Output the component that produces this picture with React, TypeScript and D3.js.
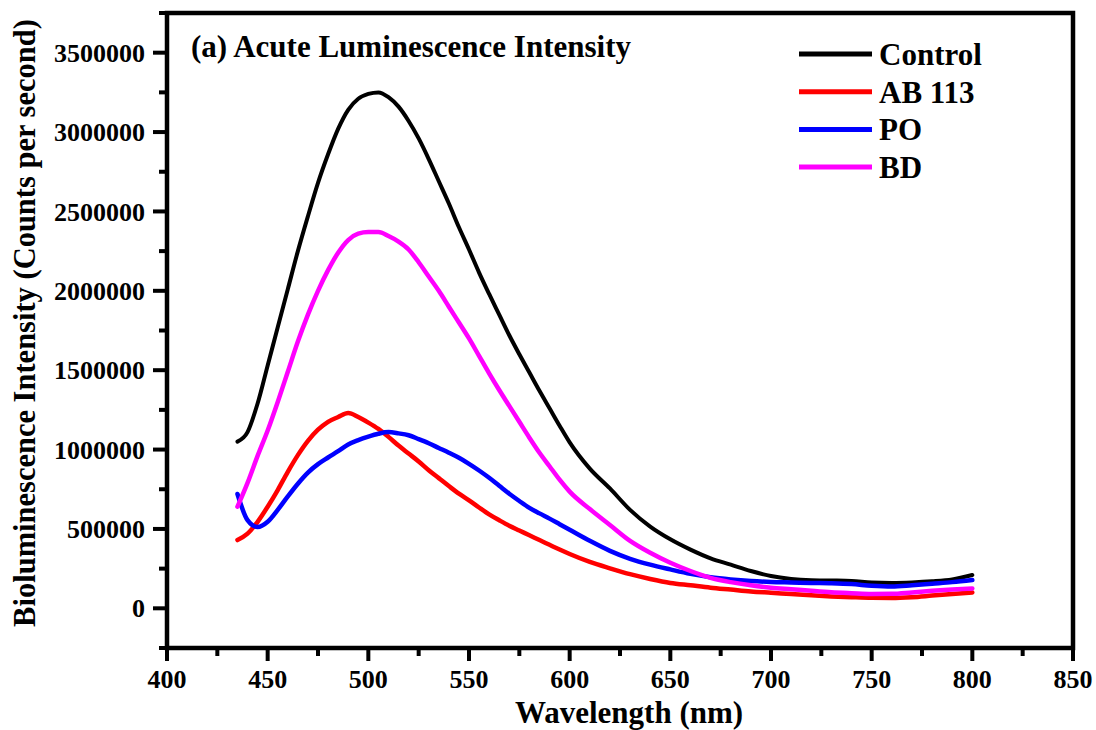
import React from "react";
import * as d3 from "d3";

const wavelengths = [
  435, 440, 445, 450, 455, 460, 465, 470, 475, 480, 485, 490, 495, 500, 505, 510, 515, 520, 525, 530,
  535, 540, 545, 550, 555, 560, 565, 570, 575, 580, 585, 590, 595, 600,
  610, 620, 630, 640, 650, 660, 670, 680, 690, 700, 710, 720, 730, 740, 750, 760, 770, 780, 790, 800,
];

const control = [
  1050000, 1110000, 1290000, 1530000, 1770000, 2010000, 2250000, 2470000, 2680000, 2860000, 3020000, 3140000, 3210000, 3240000, 3250000, 3220000, 3160000, 3070000, 2960000, 2830000,
  2690000, 2550000, 2400000, 2260000, 2115000, 1980000, 1850000, 1720000, 1600000, 1485000, 1370000, 1260000, 1150000, 1045000,
  880000, 755000, 620000, 515000, 435000, 370000, 315000, 275000, 235000, 203000, 185000, 177000, 175000, 172000, 163000, 160000, 163000, 170000, 182000, 210000,
];

const ab113 = [
  430000, 470000, 545000, 640000, 745000, 860000, 965000, 1055000, 1125000, 1175000, 1205000, 1230000, 1205000, 1170000, 1130000, 1080000, 1025000, 975000, 925000, 870000,
  820000, 770000, 722000, 680000, 635000, 592000, 555000, 520000, 490000, 460000, 430000, 400000, 370000, 342000,
  292000, 252000, 215000, 185000, 160000, 145000, 130000, 118000, 106000, 98000, 90000, 82000, 75000, 70000, 66000, 65000, 70000, 80000, 90000, 100000,
];

const po = [
  720000, 555000, 512000, 545000, 620000, 705000, 785000, 855000, 908000, 950000, 990000, 1032000, 1060000, 1082000, 1100000, 1110000, 1102000, 1090000, 1066000, 1040000,
  1010000, 980000, 948000, 910000, 868000, 822000, 772000, 722000, 676000, 633000, 598000, 565000, 530000, 495000,
  425000, 362000, 312000, 275000, 245000, 217000, 196000, 182000, 172000, 166000, 163000, 160000, 158000, 153000, 142000, 137000, 145000, 155000, 165000, 178000,
];

const bd = [
  640000, 790000, 960000, 1120000, 1300000, 1490000, 1680000, 1850000, 2000000, 2130000, 2240000, 2320000, 2360000, 2370000, 2370000, 2345000, 2310000, 2260000, 2180000, 2090000,
  2000000, 1900000, 1800000, 1700000, 1590000, 1480000, 1375000, 1275000, 1175000, 1075000, 980000, 895000, 810000, 735000,
  625000, 525000, 425000, 350000, 287000, 235000, 192000, 165000, 145000, 130000, 120000, 110000, 101000, 95000, 90000, 91000, 100000, 110000, 118000, 125000,
];

const seriesNames = ["Control", "AB 113", "PO", "BD"];
const seriesColors = ["#000000", "#ff0000", "#0000ff", "#ff00ff"];
const seriesValues = [control, ab113, po, bd];

const xTicks = [400, 450, 500, 550, 600, 650, 700, 750, 800, 850];
const xMinorTicks = [425, 475, 525, 575, 625, 675, 725, 775, 825];
const yTicks = [0, 500000, 1000000, 1500000, 2000000, 2500000, 3000000, 3500000];
const yMinorTicks = [-250000, 250000, 750000, 1250000, 1750000, 2250000, 2750000, 3250000, 3750000];

const FONT = "'Liberation Serif', 'Times New Roman', serif";

export default function App() {
  const left = 167, right = 1073, top = 13, bottom = 648;
  const x = d3.scaleLinear().domain([400, 850]).range([left, right]);
  const y = d3.scaleLinear().domain([-250000, 3750000]).range([bottom, top]);
  const line = d3
    .line<number>()
    .x((_, i) => x(wavelengths[i]))
    .y((d) => y(d))
    .curve(d3.curveMonotoneX);

  return (
    <svg
      width={1096}
      height={730}
      style={{ position: "absolute", left: 0, top: 0, background: "#fff" }}
      fontFamily={FONT}
      fontWeight="bold"
    >
      <rect x={0} y={0} width={1096} height={730} fill="#fff" />
      {seriesValues.map((vals, i) => (
        <path
          key={seriesNames[i]}
          d={line(vals) || ""}
          fill="none"
          stroke={seriesColors[i]}
          strokeWidth={i === 0 ? 4 : 4.5}
          strokeLinejoin="round"
          strokeLinecap="round"
        />
      ))}
      <rect x={left} y={top} width={right - left} height={bottom - top} fill="none" stroke="#000" strokeWidth={4.5} />
      {xTicks.map((t) => (
        <g key={"xt" + t}>
          <line x1={x(t)} x2={x(t)} y1={bottom} y2={bottom + 13} stroke="#000" strokeWidth={4} />
          <text x={x(t)} y={688} textAnchor="middle" fontSize={26}>
            {t}
          </text>
        </g>
      ))}
      {xMinorTicks.map((t) => (
        <line key={"xm" + t} x1={x(t)} x2={x(t)} y1={bottom} y2={bottom + 8} stroke="#000" strokeWidth={4} />
      ))}
      {yTicks.map((t) => (
        <g key={"yt" + t}>
          <line x1={left - 14} x2={left} y1={y(t)} y2={y(t)} stroke="#000" strokeWidth={4} />
          <text x={145} y={y(t)} dy="0.35em" textAnchor="end" fontSize={26}>
            {t}
          </text>
        </g>
      ))}
      {yMinorTicks.map((t) => (
        <line key={"ym" + t} x1={left - 8} x2={left} y1={y(t)} y2={y(t)} stroke="#000" strokeWidth={4} />
      ))}
      <text x={629} y={723} textAnchor="middle" fontSize={31}>
        Wavelength (nm)
      </text>
      <text transform={`translate(35, 323) rotate(-90)`} textAnchor="middle" fontSize={30.5}>
        Bioluminescence Intensity (Counts per second)
      </text>
      <text x={191} y={57} fontSize={31}>
        (a) Acute Luminescence Intensity
      </text>
      {seriesNames.map((name, i) => {
        const ly = 54 + i * 37.7;
        return (
          <g key={"lg" + name}>
            <line x1={799} x2={872} y1={ly} y2={ly} stroke={seriesColors[i]} strokeWidth={5} />
            <text x={879} y={ly + 11} fontSize={31}>
              {name}
            </text>
          </g>
        );
      })}
    </svg>
  );
}
